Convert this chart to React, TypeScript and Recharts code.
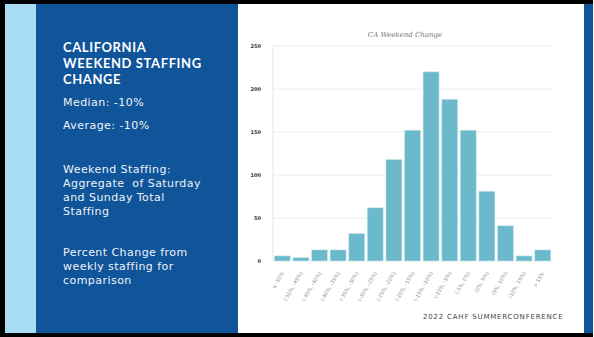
import { Bar, BarChart, CartesianGrid, XAxis, YAxis } from "recharts";

const bins = [
  "≤ -50%",
  "(-50%, -45%]",
  "(-45%, -40%]",
  "(-40%, -35%]",
  "(-35%, -30%]",
  "(-30%, -25%]",
  "(-25%, -20%]",
  "(-20%, -15%]",
  "(-15%, -10%]",
  "(-10%, -5%]",
  "(-5%, 0%]",
  "(0%, 5%]",
  "(5%, 10%]",
  "(10%, 15%]",
  "> 15%",
];
const counts = [6, 4, 13, 13, 32, 62, 118, 152, 220, 188, 152, 81, 41, 6, 13];
const yTicks = [0, 50, 100, 150, 200, 250];

const data = bins.map((bin, i) => ({ bin, count: counts[i] }));

const font = "'DejaVu Sans', 'Open Sans', sans-serif";

function BinTick({ x, y, payload }: any) {
  return (
    <g transform={`translate(${x},${y + 3})`}>
      <text
        transform="rotate(-60)"
        textAnchor="end"
        dominantBaseline="central"
        fontSize={5}
        fontFamily={font}
        fill="#8a8a8a"
      >
        {payload.value}
      </text>
    </g>
  );
}

export default function App() {
  const side = { color: "#eef3f8", fontFamily: font, fontSize: 11, lineHeight: "14px", letterSpacing: 0.45 };
  return (
    <div style={{ position: "absolute", left: 0, top: 0, width: 594, height: 337, background: "#fff", overflow: "hidden" }}>
      {/* slide frame */}
      <div style={{ position: "absolute", left: 0, top: 0, width: 593, height: 4, background: "#000" }} />
      <div style={{ position: "absolute", left: 0, top: 0, width: 5, height: 337, background: "#000" }} />
      <div style={{ position: "absolute", left: 0, top: 333, width: 593, height: 4, background: "#000" }} />
      <div style={{ position: "absolute", left: 5, top: 4, width: 31, height: 329, background: "#a8dcf4" }} />
      <div style={{ position: "absolute", left: 36, top: 4, width: 202, height: 329, background: "#10549a" }} />
      <div style={{ position: "absolute", left: 584, top: 4, width: 9, height: 329, background: "#10549a" }} />

      <div style={{ position: "absolute", left: 63, top: 39, ...side }}>
        <div style={{ fontFamily: "Lato, 'Open Sans', sans-serif", fontWeight: "bold", fontSize: 13, lineHeight: "16px", letterSpacing: 0.6, color: "#fff" }}>
          CALIFORNIA
          <br />
          WEEKEND STAFFING
          <br />
          CHANGE
        </div>
        <div style={{ marginTop: 9 }}>Median: -10%</div>
        <div style={{ marginTop: 9 }}>Average: -10%</div>
        <div style={{ marginTop: 30 }}>
          Weekend Staffing:
          <br />
          Aggregate&nbsp; of Saturday
          <br />
          and Sunday Total
          <br />
          Staffing
        </div>
        <div style={{ marginTop: 27 }}>
          Percent Change from
          <br />
          weekly staffing for
          <br />
          comparison
        </div>
      </div>

      <div
        style={{
          position: "absolute",
          left: 235,
          top: 31,
          width: 340,
          textAlign: "center",
          fontFamily: "'DejaVu Serif', serif",
          fontStyle: "italic",
          fontSize: 7,
          color: "#777",
        }}
      >
        CA Weekend Change
      </div>

      <div style={{ position: "absolute", left: 240, top: 25 }}>
        <BarChart width={340} height={280} data={data} margin={{ top: 21, right: 28, bottom: 0, left: 0 }} barCategoryGap="7%">
          <CartesianGrid vertical={false} stroke="#ececec" />
          <XAxis dataKey="bin" interval={0} height={44} tickLine={false} axisLine={false} tick={<BinTick />} />
          <YAxis
            width={33}
            domain={[0, 250]}
            ticks={yTicks}
            tickLine={false}
            axisLine={{ stroke: "#e4e4e4" }}
            tick={{ fontSize: 5, fill: "#333", fontFamily: font, fontWeight: "bold" }}
            tickMargin={6}
          />
          <Bar dataKey="count" fill="#6bb9ca" stroke="#d8eef3" strokeWidth={0.5} isAnimationActive={false} />
        </BarChart>
      </div>

      <div
        style={{
          position: "absolute",
          left: 423,
          top: 313,
          fontFamily: font,
          fontSize: 7,
          color: "#444",
          letterSpacing: 0.8,
        }}
      >
        2022 CAHF SUMMERCONFERENCE
      </div>
    </div>
  );
}
